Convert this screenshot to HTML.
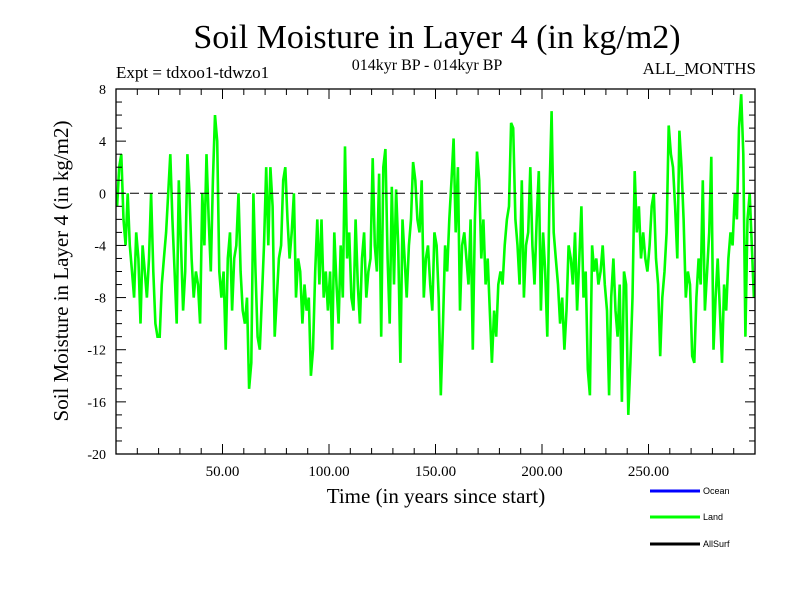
<!DOCTYPE html>
<html><head><meta charset="utf-8"><style>
body{margin:0;background:#fff}
svg text{font-family:"Liberation Serif",serif;fill:#000}
</style></head><body>
<svg id="c" width="800" height="600" xmlns="http://www.w3.org/2000/svg">
<rect width="800" height="600" fill="#fff"/>
<text x="437" y="48" font-size="34" text-anchor="middle">Soil Moisture in Layer 4 (in kg/m2)</text>
<text x="427" y="70" font-size="16" text-anchor="middle">014kyr BP - 014kyr BP</text>
<text x="116" y="78" font-size="17">Expt = tdxoo1-tdwzo1</text>
<text x="756" y="74" font-size="17" text-anchor="end">ALL_MONTHS</text>
<text transform="translate(68,271) rotate(-90)" font-size="21" text-anchor="middle">Soil Moisture in Layer 4 (in kg/m2)</text>
<text x="436" y="503" font-size="21" text-anchor="middle">Time (in years since start)</text>
<g id="plot"></g>
<g>
<line x1="650" y1="491" x2="700" y2="491" stroke="#0000ff" stroke-width="3"/>
<text x="703" y="494" font-size="9" style="font-family:'Liberation Sans',sans-serif">Ocean</text>
<line x1="650" y1="517" x2="700" y2="517" stroke="#00ff00" stroke-width="3"/>
<text x="703" y="520" font-size="9" style="font-family:'Liberation Sans',sans-serif">Land</text>
<line x1="650" y1="544" x2="700" y2="544" stroke="#000" stroke-width="3"/>
<text x="703" y="547" font-size="9" style="font-family:'Liberation Sans',sans-serif">AllSurf</text>
</g>
</svg>
<script>
const xTickValues=[50,100,150,200,250];
const xTickLabels=["50.00","100.00","150.00","200.00","250.00"];
const yTickValues=[8,4,0,-4,-8,-12,-16,-20];
const landValues=[
-1,2,3,-2,-4,0,-4,-6,-8,-3,
-5,-10,-4,-6,-8,-5,0,-6,-10,-11,
-11,-7,-5,-3,0,3,-2,-6,-10,1,
-4,-9,-6,3,0,-5,-8,-6,-7,-10,
0,-4,3,-2,-6,1,6,4,-6,-8,
-6,-12,-5,-3,-9,-5,-4,0,-6,-9,
-10,-8,-15,-13,0,-6,-11,-12,-8,-4,
2,-4,2,-1,-11,-8,-5,-4,1,2,
-2,-5,-3,0,-8,-5,-6,-10,-7,-9,
-8,-14,-12,-6,-2,-7,-2,-8,-6,-9,
-6,-12,-3,-7,-10,-4,-8,3.6,-5,-3,
-8,-9,-2,-7,-10,-5,-3,-8,-6,-5,
2.7,-4,-6,1.5,-11,2,3.4,-5,-10,0.5,
-7,0.3,-4,-13,-2,-5,-8,-4,-2,2.4,
1,-2,-3,1,-8,-5,-4,-7,-9,-3,
-4,-8,-15.5,-10,-4,-6,-2,1,4.2,-3,
2,-9,-4,-3,-5,-7,-2,-12,-2,3.2,
1,-5,-2,-7,-5,-9,-13,-9,-11,-7,
-6,-7,-4,-2,-1,5.4,5,-2,-4,-7,
1,-8,-4,-3,2,-4,-7,-2,1.7,-9,
-3,-6,-11,0,6.3,-3,-5,-7,-10,-8,
-12,-9,-4,-5,-7,-3,-9,-5,-1,-8,
-6,-13.5,-15.5,-4,-6,-5,-7,-6,-4,-7,
-9,-15.5,-8,-5,-9,-11,-7,-16,-6,-7,
-17,-13,-8,1.7,-3,-1,-5,-3,-5,-6,
-4,-1,0,-5,-7,-12.5,-8,-6,-3,5.2,
3,2,-1,-5,4.8,2,-2,-8,-6,-7,
-12.5,-13,-8,-5,-7,1,-9,-6,-3,2.8,
-12,-8,-5,-9,-13,-7,-9,-5,-3,-4,
0,-2,5,7.6,3,-11,-2,0,-4,-8];
const L=116,R=755,T=89,B=454,X0=0,X1=300,Y0=-20,Y1=8;
const sx=v=>L+(v-X0)/(X1-X0)*(R-L);
const sy=v=>B-(v-Y0)/(Y1-Y0)*(B-T);
const NS="http://www.w3.org/2000/svg";
const g=document.getElementById('plot');
function mk(t,a){const e=document.createElementNS(NS,t);for(const k in a)e.setAttribute(k,a[k]);g.appendChild(e);return e;}
let pts=landValues.map((v,i)=>sx(i+0.5).toFixed(1)+','+sy(v).toFixed(1)).join(' ');
const line=mk('polyline',{points:pts,fill:'none',stroke:'#00ff00','stroke-width':2.6,'stroke-linejoin':'miter'});


const z=mk('line',{x1:L,x2:R,y1:sy(0),y2:sy(0),stroke:'#000','stroke-width':1,'stroke-dasharray':'9,5'});


const f=mk('rect',{x:L,y:T,width:R-L,height:B-T,fill:'none',stroke:'#000','stroke-width':1.3});


for(let v=Y0;v<=Y1;v++){const maj=v%4===0;const len=maj?10:6;
 mk('line',{x1:L,x2:L+len,y1:sy(v),y2:sy(v),stroke:'#000'});
 mk('line',{x1:R,x2:R-len,y1:sy(v),y2:sy(v),stroke:'#000'});}
for(let v=10;v<X1;v+=10){const maj=v%50===0;const len=maj?10:6;
 mk('line',{x1:sx(v),x2:sx(v),y1:B,y2:B-len,stroke:'#000'});
 mk('line',{x1:sx(v),x2:sx(v),y1:T,y2:T+len,stroke:'#000'});}
yTickValues.forEach(v=>{const t=mk('text',{x:106,y:sy(v)+5,'font-size':14,'text-anchor':'end'});t.textContent=v;
 
 });
xTickValues.forEach((v,i)=>{const t=mk('text',{x:sx(v),y:476,'font-size':15,'text-anchor':'middle'});t.textContent=xTickLabels[i];
 
 });
</script>
</body></html>
